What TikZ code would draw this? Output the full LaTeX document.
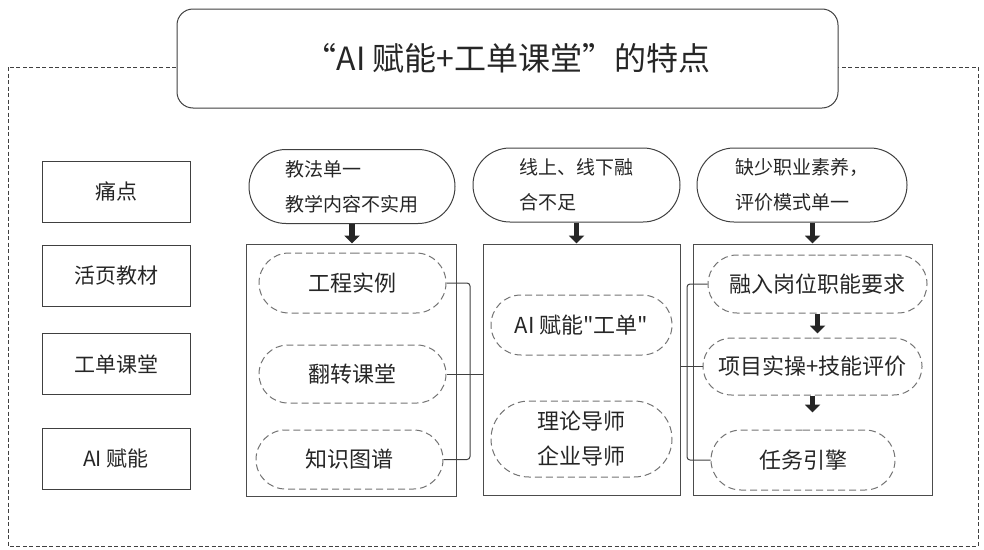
\documentclass[tikz,border=0pt]{standalone}
\usepackage{fontspec}
\setmainfont{Noto Sans CJK SC}[Ligatures=TeXOff]
\usetikzlibrary{shapes.misc,arrows.meta}

\begin{document}
\begin{tikzpicture}[x=1pt,y=-1pt]
\tikzstyle{every node}+=[inner sep=0pt, text=black!85]
\tikzstyle{item}=[draw=black!75, line width=1pt, minimum width=148pt, minimum height=61pt, font=\fontsize{21}{25}\selectfont]
\tikzstyle{pain}=[draw=black!75, line width=1pt, rounded rectangle, minimum height=74pt, align=left, font=\fontsize{19}{35}\selectfont]
\tikzstyle{col}=[draw=black!70, line width=1pt]
\tikzstyle{idea}=[draw=black!55, line width=1pt, dash pattern=on 7pt off 4pt, rounded rectangle, align=center, font=\fontsize{22}{35}\selectfont]
\tikzstyle{fat}=[line width=5.5pt, black!85, -{Triangle[length=8pt,width=15pt]}]
\tikzstyle{link}=[draw=black!75, line width=1pt]
\useasboundingbox (0,0) rectangle (984,549);
% outer frame and title
\draw [black!75, line width=1pt, dash pattern=on 4pt off 2.5pt] (8,67) rectangle (978,546);
\node [draw=black!75, line width=1pt, fill=white, rounded corners=16pt, minimum width=661pt, minimum height=99pt, font=\fontsize{32}{38}\selectfont] (title) at (507.5,58.5) {“AI 赋能+工单课堂”的特点};
% left column
\node [item] (l1) at (116,191.5) {痛点};
\node [item] (l2) at (116,275.5) {活页教材};
\node [item] (l3) at (116,364) {工单课堂};
\node [item] (l4) at (116,458.5) {AI 赋能};
% pain points
\node [pain, minimum width=206pt] (p1) at (352,186.5) {教法单一\\教学内容不实用};
\node [pain, minimum width=207pt] (p2) at (576.5,185) {线上、线下融\\合不足};
\node [pain, minimum width=210pt] (p3) at (802,185) {缺少职业素养，\\评价模式单一};
% column boxes
\node [col, minimum width=210pt, minimum height=252pt] (b1) at (351,370) {};
\node [col, minimum width=197pt, minimum height=251pt] (b2) at (581.5,369.5) {};
\node [col, minimum width=239pt, minimum height=251pt] (b3) at (812.5,369.5) {};
\draw [fat] (p1.south) -- (p1.south |- b1.north);
\draw [fat] (p2.south) -- (p2.south |- b2.north);
\draw [fat] (b3.north |- p3.south) -- (b3.north);
% column 1
\node [idea, minimum width=187pt, minimum height=60pt] (s11) at (352.5,283) {工程实例};
\node [idea, minimum width=187pt, minimum height=58pt] (s12) at (352.5,374) {翻转课堂};
\node [idea, minimum width=187pt, minimum height=59pt] (s13) at (349.5,459.5) {知识图谱};
% column 2
\node [idea, minimum width=181pt, minimum height=60pt] (s21) at (581.5,325) {AI 赋能"工单"};
\node [idea, minimum width=181pt, minimum height=76pt] (s22) at (581.5,439) {理论导师\\企业导师};
% column 3
\node [idea, minimum width=219pt, minimum height=58pt] (s31) at (817.5,284) {融入岗位职能要求};
\node [idea, minimum width=219pt, minimum height=57pt] (s32) at (812.5,366.5) {项目实操+技能评价};
\node [idea, minimum width=184pt, minimum height=60pt] (s33) at (803,460) {任务引擎};
\draw [fat, shorten >=4pt] (s31.south) -- (s31.south |- s32.north);
\draw [fat, shorten >=17pt] (s32.south) -- (s32.south |- s33.north);
% links
\coordinate (j1) at (470,374);
\coordinate (j3) at (687,366.5);
\draw [link, rounded corners=3pt] (s11.east) -| (j1) |- (s13.east);
\draw [link] (s12.east) -- (s12.east -| b2.west);
\draw [link, rounded corners=3pt] (s31.west) -| (j3) |- (s33.west);
\draw [link] (b2.east |- s32.west) -- (s32.west);
\end{tikzpicture}
\end{document}
